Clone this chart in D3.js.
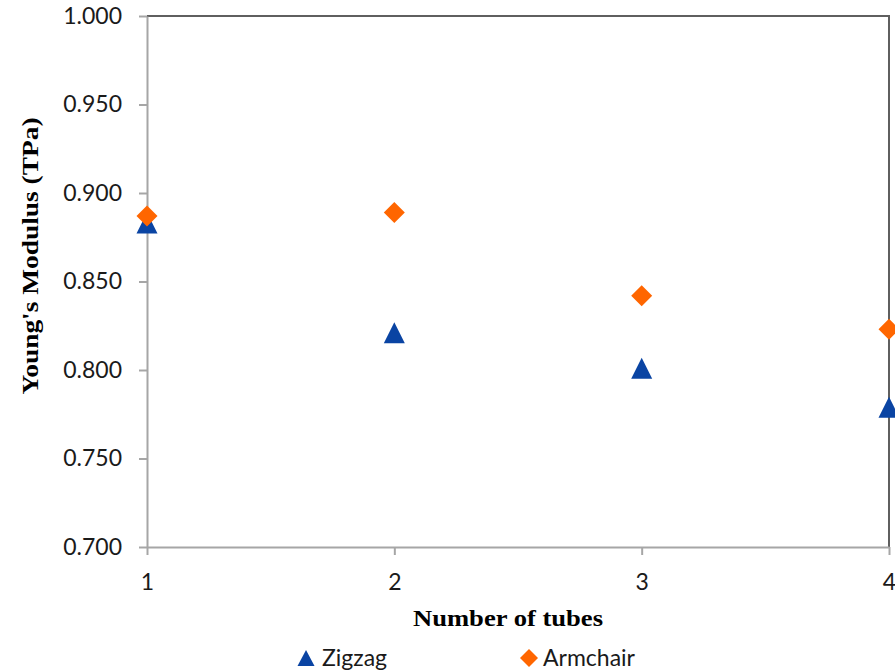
<!DOCTYPE html>
<html>
<head>
<meta charset="utf-8">
<script src="https://cdn.jsdelivr.net/npm/d3@7"></script>
<style>
  html, body { margin: 0; padding: 0; background: #fff; }
  svg { display: block; }
</style>
</head>
<body>
<div id="chart"></div>
<script>
// Young's modulus vs. number of tubes for zigzag and armchair bundles
const tubes = [1, 2, 3, 4];
const zigzag = [0.883, 0.821, 0.801, 0.779];
const armchair = [0.887, 0.889, 0.842, 0.823];
const yTicks = [0.700, 0.750, 0.800, 0.850, 0.900, 0.950, 1.000];
const xTicks = [1, 2, 3, 4];
const seriesNames = ["Zigzag", "Armchair"];

const W = 895, H = 672;
const plot = { left: 147, right: 889, top: 16, bottom: 547 };

const svg = d3.select("#chart").append("svg")
  .attr("width", W).attr("height", H);

const x = d3.scaleLinear().domain([1, 4]).range([plot.left, plot.right]);
const y = d3.scaleLinear().domain([0.7, 1.0]).range([plot.bottom, plot.top]);

const tickFont = "Lato, 'Open Sans', sans-serif";
const titleFont = "'Liberation Serif', 'Times New Roman', serif";
const blue = "#0a44a3";
const orange = "#ff6600";

// Plot-area frame (top and right edges)
svg.append("path")
  .attr("d", `M${plot.left},${plot.top}H${plot.right}V${plot.bottom}`)
  .attr("fill", "none")
  .attr("stroke", "#5f5f5f")
  .attr("stroke-width", 2);

// Y axis
const yAxis = svg.append("g")
  .attr("transform", `translate(${plot.left},0)`)
  .call(d3.axisLeft(y).tickValues(yTicks).tickFormat(d3.format(".3f"))
    .tickSizeInner(8).tickSizeOuter(0).tickPadding(17));

// X axis
const xAxis = svg.append("g")
  .attr("transform", `translate(0,${plot.bottom})`)
  .call(d3.axisBottom(x).tickValues(xTicks).tickFormat(d3.format("d"))
    .tickSizeInner(8).tickSizeOuter(0).tickPadding(19));

[yAxis, xAxis].forEach(g => {
  g.select(".domain").attr("stroke", "#a6a6a6").attr("stroke-width", 2);
  g.selectAll(".tick line").attr("stroke", "#a6a6a6").attr("stroke-width", 2);
  g.selectAll(".tick text")
    .attr("fill", "#1a1a1a")
    .style("font-family", tickFont)
    .style("font-size", "23px");
});

// Marker shapes, centred on their bounding box
function triangle(cx, cy, w, h) {
  return `M${cx},${cy - h / 2}L${cx + w / 2},${cy + h / 2}L${cx - w / 2},${cy + h / 2}Z`;
}
function diamond(cx, cy, r) {
  return `M${cx},${cy - r}L${cx + r},${cy}L${cx},${cy + r}L${cx - r},${cy}Z`;
}

svg.append("g").selectAll("path")
  .data(tubes.map((t, i) => ({ t, v: zigzag[i] })))
  .join("path")
  .attr("d", d => triangle(x(d.t), y(d.v), 21, 21))
  .attr("fill", blue);

svg.append("g").selectAll("path")
  .data(tubes.map((t, i) => ({ t, v: armchair[i] })))
  .join("path")
  .attr("d", d => diamond(x(d.t), y(d.v), 10.5))
  .attr("fill", orange);

// Axis titles
svg.append("text")
  .attr("x", 508).attr("y", 626)
  .attr("text-anchor", "middle")
  .attr("textLength", 190)
  .attr("lengthAdjust", "spacingAndGlyphs")
  .style("font-family", titleFont)
  .style("font-weight", "bold")
  .style("font-size", "24px")
  .attr("fill", "#000")
  .text("Number of tubes");

svg.append("text")
  .attr("transform", "translate(38,256) rotate(-90)")
  .attr("text-anchor", "middle")
  .attr("textLength", 277)
  .attr("lengthAdjust", "spacingAndGlyphs")
  .style("font-family", titleFont)
  .style("font-weight", "bold")
  .style("font-size", "24px")
  .attr("fill", "#000")
  .text("Young's Modulus (TPa)");

// Legend
const legend = svg.append("g");
const legendItems = [
  { name: seriesNames[0], mx: 306, tx: 322, shape: "tri", color: blue },
  { name: seriesNames[1], mx: 529, tx: 543, shape: "dia", color: orange }
];
legendItems.forEach(it => {
  legend.append("path")
    .attr("d", it.shape === "tri" ? triangle(it.mx, 658, 17, 16) : diamond(it.mx, 658, 9))
    .attr("fill", it.color);
  legend.append("text")
    .attr("x", it.tx).attr("y", 666)
    .style("font-family", tickFont)
    .style("font-size", "23px")
    .attr("fill", "#1a1a1a")
    .text(it.name);
});
</script>
</body>
</html>
